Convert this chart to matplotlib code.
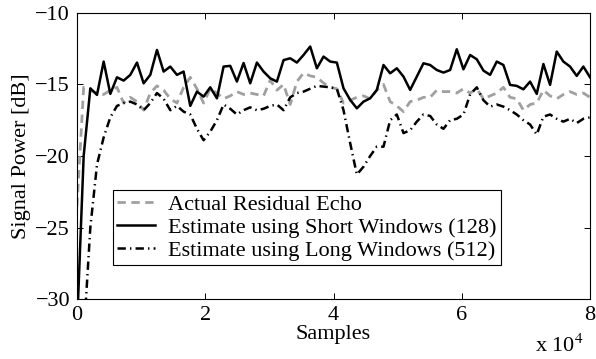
import numpy as np
import matplotlib
matplotlib.use("Agg")
import matplotlib.pyplot as plt

# frame positions (samples)
samples = np.linspace(0, 80000, 78)

actual_echo = [-23.5, -15.2, -15.4, -15.6, -15.7, -15.4, -15.2, -16.3, -15.9, -16.2,
               -16.8, -15.6, -15.1, -15.4, -16.0, -16.3, -15.2, -14.5, -15.3, -16.3,
               -15.3, -15.6, -16.0, -15.8, -15.5, -15.7, -15.6, -15.7, -15.8, -14.7,
               -15.4, -15.0, -16.4, -14.8, -14.2, -14.4, -14.5, -14.9, -15.2, -15.3,
               -16.3, -16.1, -15.9, -15.8, -16.0, -15.4, -15.0, -16.2, -16.5, -16.9,
               -16.2, -16.1, -15.9, -15.9, -15.4, -15.5, -15.5, -15.6, -15.3, -15.6,
               -15.3, -16.0, -15.8, -15.6, -15.2, -15.9, -16.0, -16.8, -16.4, -16.3,
               -15.4, -15.8, -16.0, -15.7, -15.5, -15.7, -15.6, -15.9]

short_est = [-32.0, -20.0, -15.27, -15.73, -13.4, -15.66, -14.5, -14.73, -14.33, -13.47,
             -14.92, -14.33, -12.59, -14.1, -13.75, -14.33, -14.1, -16.5, -15.5, -15.85,
             -15.2, -15.97, -13.75, -13.7, -14.8, -13.5, -14.92, -13.47, -14.1, -14.57,
             -14.8, -13.3, -13.17, -13.47, -12.94, -12.35, -13.87, -13.05, -13.4, -13.47,
             -15.27, -16.08, -16.67, -16.2, -15.97, -15.38, -13.64, -14.22, -13.87, -14.45,
             -15.38, -14.45, -13.52, -13.64, -13.99, -14.17, -13.99, -12.54, -13.94, -12.94,
             -13.24, -14.03, -14.33, -13.4, -13.64, -15.03, -15.1, -15.34, -14.8, -15.66,
             -13.57, -15.03, -12.7, -13.4, -13.75, -14.4, -13.75, -14.5]

long_est = [-60.0, -32.7, -25.0, -20.6, -18.7, -17.3, -16.5, -16.3, -16.2, -16.4,
            -16.8, -16.3, -15.6, -16.0, -16.8, -16.5, -16.9, -17.1, -18.1, -18.9,
            -18.3, -17.5, -16.4, -16.7, -17.1, -16.8, -16.6, -16.8, -16.7, -16.5,
            -16.4, -16.8, -15.9, -15.6, -15.5, -15.3, -15.1, -15.15, -15.2, -15.3,
            -16.8, -19.1, -21.3, -20.75, -20.0, -19.35, -19.35, -17.5, -17.1, -18.4,
            -18.2, -17.6, -17.1, -17.2, -17.8, -18.1, -17.5, -17.4, -17.1, -15.7,
            -15.2, -16.1, -16.55, -16.4, -16.55, -16.8, -17.1, -17.5, -17.8, -18.5,
            -17.25, -17.1, -17.4, -17.6, -17.4, -17.7, -17.4, -17.3]

labels = ["Actual Residual Echo",
          "Estimate using Short Windows (128)",
          "Estimate using Long Windows (512)"]

plt.rcParams["font.family"] = ["Liberation Serif", "DejaVu Serif"]
plt.rcParams["mathtext.fontset"] = "stix"
plt.rcParams["font.size"] = 16
plt.rcParams["lines.scale_dashes"] = False

fig = plt.figure(figsize=(5.96, 3.59), dpi=100)
ax = fig.add_axes([0.1292, 0.167, 0.8608, 0.797])

ax.plot(samples, actual_echo, color="#a0a0a0", lw=2.0, dashes=(6, 4), label=labels[0])
ax.plot(samples, short_est, color="black", lw=1.8, label=labels[1])
ax.plot(samples, long_est, color="black", lw=1.8, dashes=(6, 3, 1, 3), label=labels[2])

ax.set_xlim(0, 80000)
ax.set_ylim(-30, -10)
ax.set_xticks([0, 20000, 40000, 60000, 80000])
ax.set_xticklabels(["0", "2", "4", "6", "8"])
ax.set_yticks([-30, -25, -20, -15, -10])
ax.tick_params(direction="in", length=4.5, width=0.7, top=True, right=True, pad=5)
for s in ax.spines.values():
    s.set_linewidth(0.8)

ax.set_xlabel("Samples", labelpad=0)
ax.set_ylabel("Signal Power [dB]", labelpad=3)
fig.text(0.897, 0.005, r"x 10$^4$", ha="left", va="bottom")

leg = ax.legend(loc="lower left", bbox_to_anchor=(0.0696, 0.119), borderaxespad=0,
                fancybox=False, edgecolor="black", framealpha=1, handlelength=1.7,
                handletextpad=0.6, labelspacing=0.1, borderpad=0.2)
leg.get_frame().set_linewidth(0.8)

fig.savefig("out.png", dpi=100)
